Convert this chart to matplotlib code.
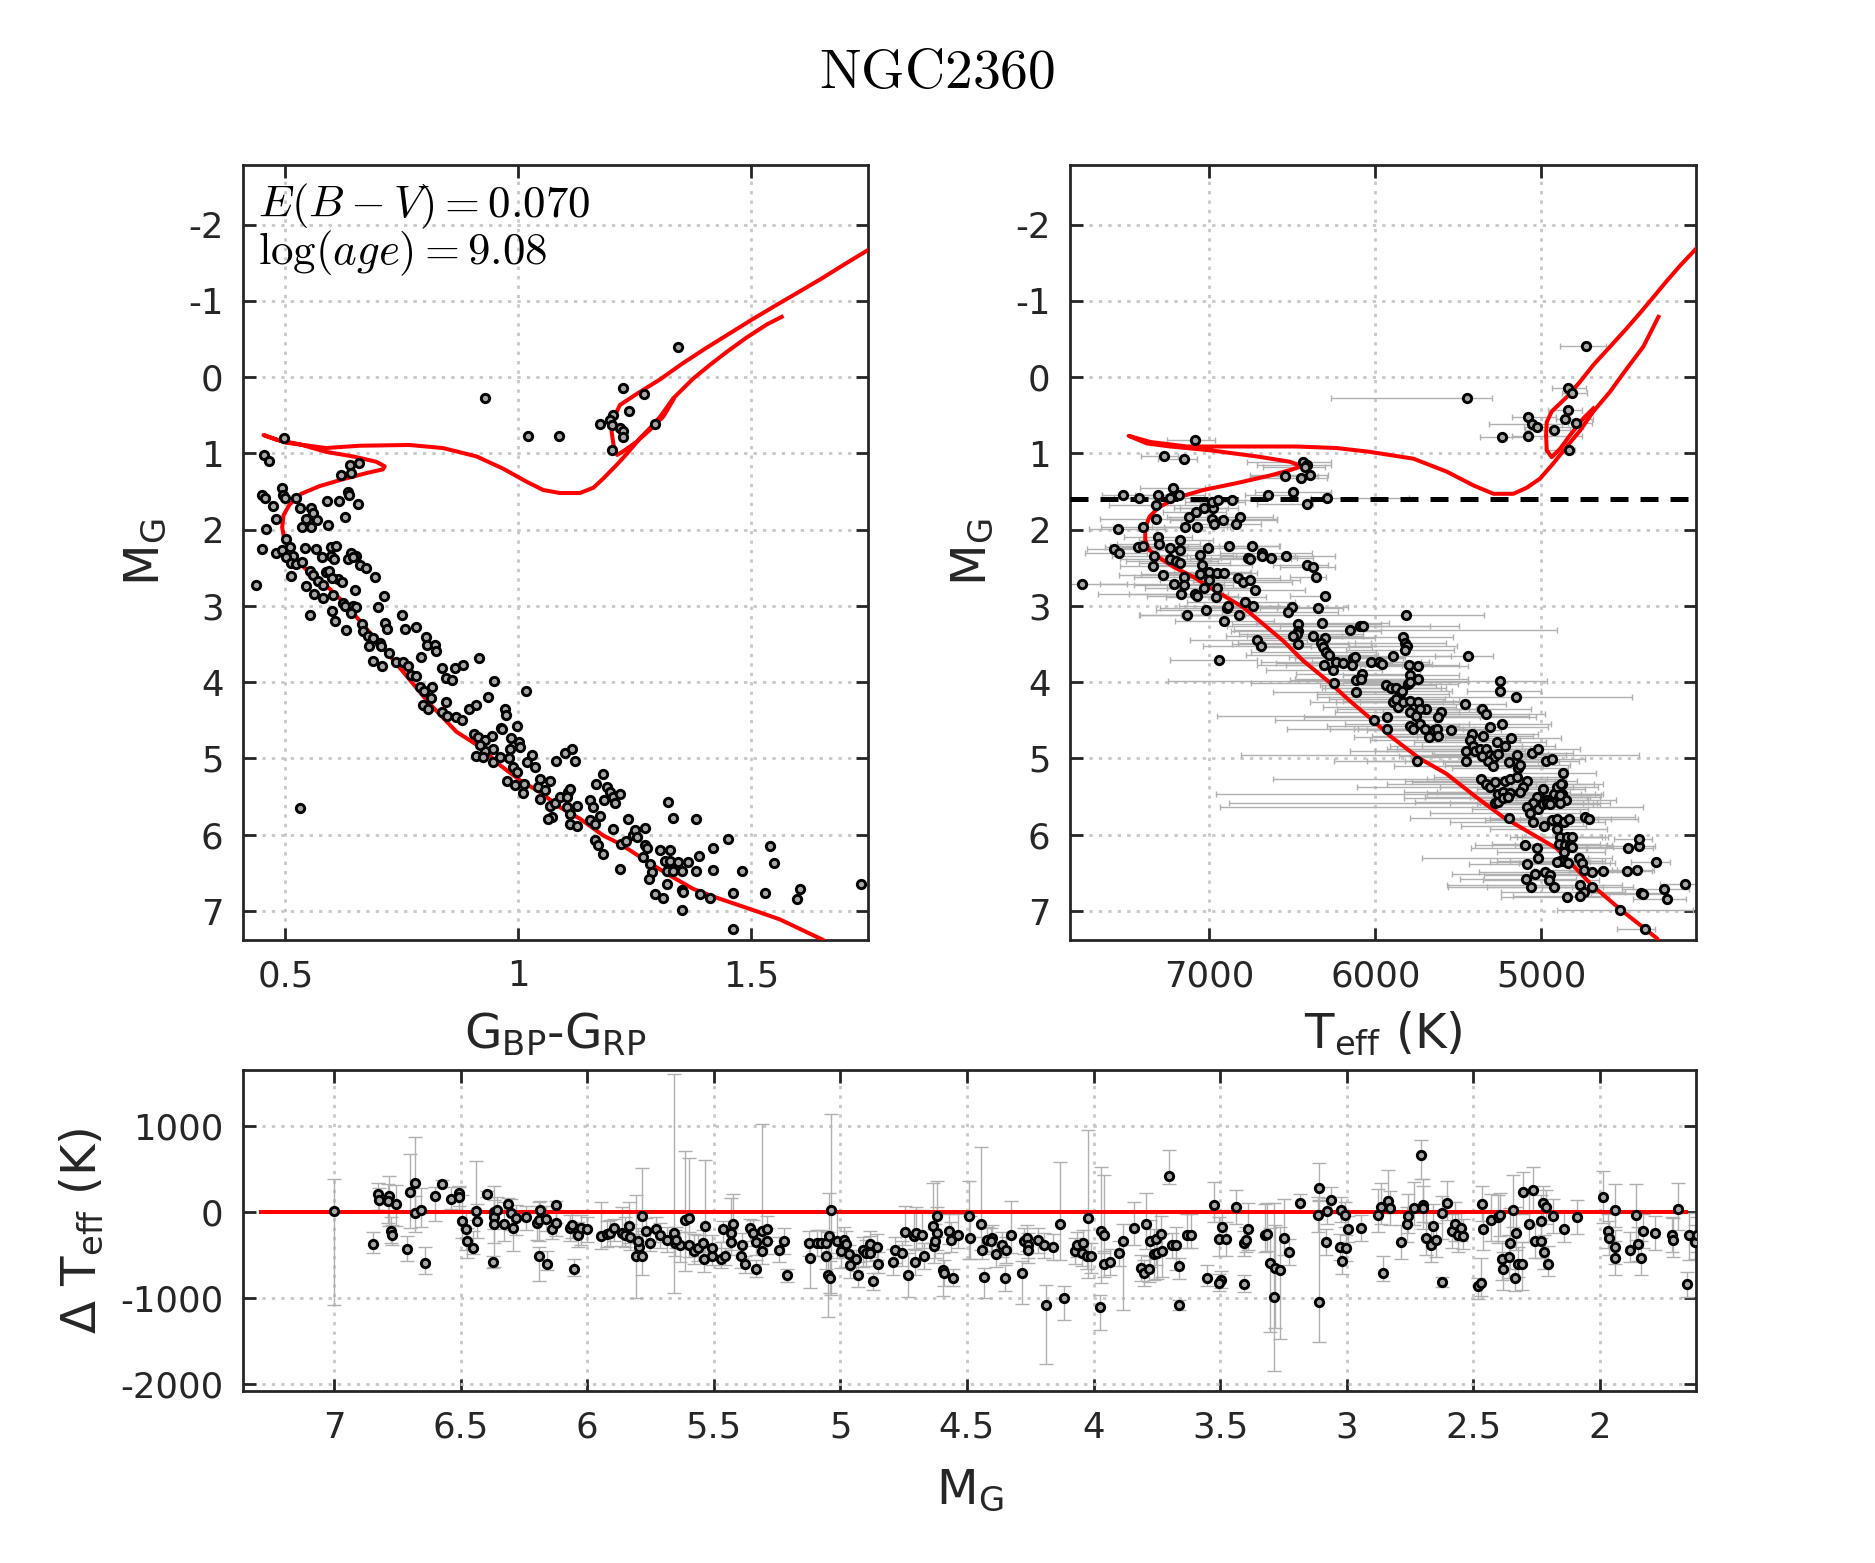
import numpy as np
import matplotlib
matplotlib.use('Agg')
import matplotlib.pyplot as plt

plt.rcParams['axes.unicode_minus'] = False
plt.rcParams['font.family'] = ['DejaVu Sans']

# ---------------- photometric CMD (left panel) ----------------
gbr = [0.929, 1.021, 1.088, 1.174, 1.343, 1.225, 1.269, 1.238, 1.202, 1.196,
       1.200, 1.218, 1.225, 1.224, 1.293, 1.200, 0.496, 0.455, 0.464, 0.638,
       0.658, 0.620, 0.641, 0.493, 0.449, 0.457, 0.494, 0.500, 0.474, 0.523,
       0.531, 0.555, 0.559, 0.590, 0.616, 0.634, 0.636, 0.655, 0.479, 0.544,
       0.567, 0.536, 0.555, 0.591, 0.627, 0.458, 0.450, 0.480, 0.493, 0.501,
       0.509, 0.516, 0.501, 0.543, 0.566, 0.598, 0.609, 0.578, 0.598, 0.605,
       0.641, 0.652, 0.634, 0.645, 0.659, 0.672, 0.512, 0.523, 0.536, 0.512,
       0.437, 0.544, 0.552, 0.559, 0.569, 0.580, 0.587, 0.593, 0.612, 0.622,
       0.600, 0.561, 0.580, 0.602, 0.650, 0.693, 0.711, 0.623, 0.627, 0.645,
       0.652, 0.641, 0.600, 0.607, 0.630, 0.552, 0.698, 0.751, 0.713, 0.718,
       0.757, 0.781, 0.665, 0.666, 0.677, 0.688, 0.702, 0.706, 0.679, 0.688,
       0.708, 0.723, 0.738, 0.752, 0.763, 0.770, 0.781, 0.792, 0.802, 0.803,
       0.822, 0.823, 0.837, 0.845, 0.863, 0.881, 0.858, 0.915, 0.947, 0.935,
       1.017, 0.788, 0.798, 0.815, 0.813, 0.795, 0.806, 0.845, 0.837, 0.847,
       0.867, 0.878, 0.895, 0.910, 0.971, 0.974, 0.963, 0.996, 0.905, 0.913,
       0.910, 0.964, 0.943, 0.929, 0.984, 1.002, 1.004, 0.981, 0.946, 0.929,
       0.918, 0.925, 0.946, 0.961, 0.979, 0.989, 0.996, 0.975, 0.993, 1.011,
       1.009, 1.029, 1.018, 1.036, 1.046, 1.043, 1.057, 1.046, 1.068, 1.081,
       1.100, 1.116, 1.121, 1.068, 1.071, 1.064, 1.079, 1.089, 1.107, 1.111,
       1.104, 1.105, 1.111, 1.111, 1.126, 1.125, 1.154, 1.159, 1.154, 1.164,
       1.174, 1.164, 1.171, 1.181, 1.182, 1.166, 1.191, 1.196, 1.202, 1.207,
       1.218, 1.184, 1.202, 1.221, 1.219, 1.236, 1.231, 1.245, 1.250, 1.254,
       1.271, 1.271, 1.275, 1.268, 1.282, 1.286, 1.281, 1.293, 1.311, 1.304,
       1.325, 1.314, 1.325, 1.318, 1.318, 1.332, 1.343, 1.350, 1.321, 1.332,
       1.350, 1.354, 1.351, 1.364, 1.382, 1.382, 1.388, 1.389, 1.411, 1.418,
       1.418, 1.450, 1.461, 1.461, 1.479, 1.529, 1.539, 1.548, 1.598, 1.605,
       1.736, 0.532]
mg_phot = [0.275, 0.777, 0.769, 0.616, -0.40, 0.14, 0.22, 0.44, 0.50, 0.56,
           0.63, 0.67, 0.71, 0.78, 0.61, 0.96, 0.80, 1.02, 1.10, 1.15,
           1.12, 1.29, 1.26, 1.45, 1.54, 1.59, 1.55, 1.59, 1.69, 1.59,
           1.71, 1.71, 1.78, 1.62, 1.62, 1.50, 1.55, 1.66, 1.86, 1.86,
           1.88, 1.97, 1.97, 1.94, 1.84, 1.99, 2.26, 2.31, 2.27, 2.12,
           2.23, 2.34, 2.36, 2.24, 2.25, 2.23, 2.21, 2.36, 2.34, 2.39,
           2.31, 2.34, 2.39, 2.36, 2.47, 2.50, 2.44, 2.45, 2.43, 2.61,
           2.72, 2.74, 2.54, 2.59, 2.67, 2.72, 2.56, 2.54, 2.65, 2.69,
           2.63, 2.85, 2.89, 2.86, 2.79, 2.62, 2.87, 2.96, 3.00, 3.00,
           3.01, 3.09, 3.07, 3.20, 3.31, 3.12, 3.02, 3.12, 3.23, 3.30,
           3.30, 3.27, 3.24, 3.33, 3.40, 3.42, 3.49, 3.53, 3.53, 3.72,
           3.79, 3.62, 3.74, 3.74, 3.79, 3.90, 3.92, 3.67, 3.41, 3.51,
           3.51, 3.59, 3.82, 3.94, 3.82, 3.77, 3.97, 3.68, 3.99, 4.20,
           4.12, 4.06, 4.11, 4.06, 4.21, 4.30, 4.35, 4.26, 4.39, 4.44,
           4.45, 4.50, 4.35, 4.30, 4.35, 4.43, 4.60, 4.57, 4.68, 4.72,
           4.97, 4.62, 4.70, 4.76, 4.73, 4.79, 4.85, 4.87, 4.87, 4.90,
           4.83, 4.98, 5.05, 4.98, 5.00, 5.11, 5.18, 5.30, 5.35, 5.33,
           5.45, 4.96, 5.05, 5.11, 5.27, 5.38, 5.42, 5.53, 5.30, 5.03,
           4.93, 4.87, 5.03, 5.62, 5.77, 5.79, 5.59, 5.51, 5.44, 5.40,
           5.51, 5.64, 5.73, 5.86, 5.62, 5.89, 5.54, 5.64, 5.81, 5.86,
           5.75, 6.07, 6.14, 6.25, 5.20, 5.33, 5.37, 5.44, 5.51, 5.59,
           5.47, 5.54, 5.92, 6.12, 6.45, 5.79, 6.08, 6.01, 5.94, 6.03,
           5.91, 6.14, 6.18, 6.29, 6.38, 6.49, 6.58, 6.78, 6.83, 6.20,
           6.20, 6.34, 6.34, 6.47, 6.65, 6.47, 6.36, 6.47, 5.57, 5.78,
           6.73, 6.75, 6.99, 6.36, 5.80, 6.47, 6.28, 6.78, 6.83, 6.18,
           6.46, 6.05, 6.77, 7.24, 6.47, 6.77, 6.15, 6.37, 6.84, 6.71,
           6.64, 5.65]

# isochrone in colour-magnitude plane (two pieces)
iso_col1 = [1.68, 1.654, 1.561, 1.500, 1.418, 1.375, 1.318, 1.261, 1.218, 1.182,
            1.132, 1.089, 1.046, 1.004, 0.961, 0.918, 0.867, 0.809, 0.752, 0.709,
            0.666, 0.623, 0.580, 0.544, 0.516, 0.498, 0.493, 0.496, 0.509, 0.534,
            0.573, 0.623, 0.673, 0.709, 0.713, 0.695, 0.645, 0.587, 0.530, 0.480,
            0.453, 0.501, 0.587, 0.659, 0.766, 0.838, 0.910, 0.967, 1.017, 1.053,
            1.089, 1.132, 1.161, 1.182, 1.211, 1.232, 1.261, 1.282, 1.304, 1.332,
            1.375, 1.411, 1.447, 1.490, 1.533, 1.565]
iso_mg1 = [7.50, 7.38, 7.11, 6.98, 6.81, 6.71, 6.51, 6.29, 6.12, 6.01,
           5.79, 5.64, 5.44, 5.29, 5.09, 4.85, 4.65, 4.28, 3.86, 3.55,
           3.24, 2.94, 2.69, 2.52, 2.34, 2.14, 1.97, 1.81, 1.67, 1.53,
           1.43, 1.34, 1.26, 1.21, 1.17, 1.11, 1.04, 0.98, 0.88, 0.82,
           0.76, 0.86, 0.93, 0.90, 0.89, 0.93, 1.04, 1.20, 1.37, 1.48,
           1.52, 1.52, 1.45, 1.33, 1.15, 1.01, 0.80, 0.67, 0.52, 0.28,
           0.02, -0.16, -0.33, -0.52, -0.69, -0.79]
iso_col2 = [1.80, 1.754, 1.700, 1.650, 1.600, 1.555, 1.500, 1.450, 1.400, 1.350,
            1.304, 1.254, 1.218, 1.204, 1.200, 1.204, 1.212, 1.229, 1.254, 1.282,
            1.311, 1.332]
iso_mg2 = [-1.85, -1.68, -1.48, -1.29, -1.11, -0.95, -0.75, -0.56, -0.37, -0.17,
           0.03, 0.22, 0.365, 0.540, 0.715, 0.890, 1.021, 0.955, 0.846, 0.693,
           0.518, 0.300]

# ---------------- spectroscopic Teff vs MG (right panel) ----------------
teff = [4729, 4840, 4816, 5450, 4840, 5079, 4860, 5057, 5025, 4926,
        4791, 5239, 5079, 4833, 7086, 7276, 7153, 6435, 6415, 6425,
        6395, 6449, 6545, 6499, 6645, 6415, 6289, 7521, 7427, 7313,
        7220, 7186, 7236, 7321, 7321, 7126, 7080, 7036, 6976, 6986,
        6946, 6862, 6986, 6920, 6816, 6840, 6972, 7146, 7076, 7401,
        7551, 7313, 7176, 7307, 7240, 7431, 7401, 7577, 7547, 7176,
        7060, 7006, 6880, 6745, 6770, 6756, 6685, 6685, 6629, 6541,
        6415, 6375, 6359, 6303, 7337, 7240, 7200, 7176, 7341, 7046,
        7000, 6956, 6912, 7060, 7152, 7283, 7768, 7212, 7156, 7036,
        7000, 6956, 6826, 6800, 6756, 6725, 7170, 7086, 7076, 6962,
        6896, 6886, 6786, 6735, 6505, 6525, 6345, 7136, 7020, 6910,
        6820, 6715, 6689, 6940, 6465, 6469, 6475, 6499, 6321, 6375,
        6305, 6154, 6094, 6074, 5818, 5834, 6464, 6329, 6319, 6298,
        6282, 6312, 6258, 6238, 6198, 6133, 6121, 6141, 6026, 5980,
        5960, 5895, 5825, 5810, 5825, 5798, 5744, 5794, 5744, 5442,
        6248, 6117, 6081, 6087, 6117, 5935, 5905, 5875, 5804, 5794,
        5855, 5839, 5250, 5250, 5153, 5895, 5879, 5865, 5835, 5794,
        5744, 5694, 5734, 5794, 5754, 5607, 5623, 5462, 5361, 5331,
        6006, 5931, 5931, 5794, 5774, 5734, 5704, 5677, 5649, 5627,
        5623, 5542, 5421, 5431, 5415, 5452, 5351, 5310, 5240, 5270,
        5183, 5401, 5371, 5331, 5310, 5286, 5260, 5321, 5290, 5220,
        5149, 5194, 5139, 5129, 5452, 5361, 5750, 5058, 5018, 4972,
        4938, 5367, 5331, 5310, 5280, 5220, 5190, 5149, 5085, 5109,
        5129, 5260, 5230, 5190, 5280, 5260, 5230, 5200, 4990, 5008,
        4968, 4927, 4897, 4877, 4851, 4887, 4908, 4877, 4871, 4883,
        4891, 5194, 5028, 5052, 5089, 5069, 5048, 5018, 4988, 4968,
        4948, 4982, 4938, 4907, 4867, 4831, 4736, 4716, 4907, 4887,
        4847, 4817, 4897, 4857, 4827, 4867, 4817, 4867, 4837, 4887,
        4907, 5099, 5024, 5018, 5089, 5038, 4978, 4948, 4952, 4927,
        5065, 5093, 4776, 4756, 4746, 4696, 4631, 4484, 4423, 4480,
        4413, 4413, 4308, 4766, 4746, 4696, 4770, 4843, 4400, 4388,
        4262, 4246, 4135, 4528, 4379]
mg_spec = [-0.41, 0.145, 0.21, 0.276, 0.43, 0.52, 0.55, 0.62, 0.66, 0.70,
           0.605, 0.785, 0.77, 0.956, 0.82, 1.03, 1.08, 1.11, 1.15, 1.18,
           1.29, 1.32, 1.30, 1.50, 1.55, 1.66, 1.59, 1.54, 1.59, 1.55,
           1.46, 1.54, 1.59, 1.68, 1.86, 1.83, 1.77, 1.71, 1.72, 1.64,
           1.61, 1.61, 1.86, 1.88, 1.83, 1.93, 1.93, 1.97, 1.97, 1.96,
           1.99, 2.09, 2.13, 2.19, 2.24, 2.23, 2.21, 2.26, 2.30, 2.27,
           2.33, 2.24, 2.22, 2.22, 2.37, 2.38, 2.31, 2.34, 2.37, 2.34,
           2.47, 2.49, 2.62, 2.87, 2.35, 2.38, 2.41, 2.44, 2.48, 2.46,
           2.55, 2.57, 2.57, 2.58, 2.62, 2.60, 2.71, 2.71, 2.72, 2.76,
           2.66, 2.76, 2.63, 2.69, 2.66, 2.79, 2.84, 2.84, 2.87, 2.88,
           3.03, 3.00, 2.95, 3.00, 3.02, 3.08, 3.03, 3.12, 3.06, 3.20,
           3.12, 3.45, 3.53, 3.71, 3.24, 3.33, 3.37, 3.39, 3.23, 3.39,
           3.42, 3.31, 3.26, 3.26, 3.12, 3.41, 3.50, 3.49, 3.54, 3.61,
           3.64, 3.78, 3.84, 3.74, 3.75, 3.68, 3.67, 3.78, 3.74, 3.74,
           3.76, 3.66, 3.48, 3.52, 3.58, 3.78, 3.79, 3.91, 3.96, 3.66,
           4.01, 3.97, 3.89, 3.96, 4.13, 4.04, 4.07, 4.07, 4.02, 4.00,
           4.15, 4.11, 3.98, 4.11, 4.19, 4.26, 4.22, 4.32, 4.26, 4.25,
           4.26, 4.35, 4.35, 4.39, 4.44, 4.39, 4.45, 4.28, 4.35, 4.42,
           4.49, 4.45, 4.61, 4.57, 4.61, 4.55, 4.62, 4.72, 4.63, 4.61,
           4.70, 4.63, 4.68, 4.76, 4.84, 4.90, 4.70, 4.59, 4.55, 4.79,
           4.73, 4.90, 4.87, 4.87, 4.96, 4.98, 4.94, 5.03, 5.10, 4.84,
           4.96, 5.05, 5.12, 5.09, 5.03, 4.97, 5.03, 4.93, 4.87, 5.03,
           5.01, 5.27, 5.33, 5.38, 5.31, 5.29, 5.27, 5.24, 5.30, 5.38,
           5.44, 5.46, 5.44, 5.45, 5.59, 5.57, 5.52, 5.50, 5.40, 5.51,
           5.54, 5.47, 5.51, 5.46, 5.54, 5.59, 5.38, 5.33, 5.19, 5.34,
           5.48, 5.78, 5.51, 5.59, 5.64, 5.72, 5.83, 5.66, 5.60, 5.58,
           5.60, 5.88, 5.81, 5.79, 5.83, 5.79, 5.77, 5.80, 5.92, 6.03,
           6.03, 6.03, 6.12, 6.13, 6.14, 6.22, 6.16, 6.34, 6.37, 6.34,
           6.36, 6.13, 6.18, 6.31, 6.39, 6.51, 6.49, 6.53, 6.60, 6.69,
           6.68, 6.58, 6.31, 6.37, 6.46, 6.49, 6.47, 6.47, 6.46, 6.18,
           6.15, 6.05, 6.36, 6.66, 6.75, 6.68, 6.80, 6.81, 6.77, 6.78,
           6.71, 6.84, 6.64, 6.99, 7.24]
# error towards hotter Teff (drawn to the left) and towards cooler Teff
teff_err_hot = [160, 99, 61, 817, 123, 98, 55, 258, 78, 172,
                49, 130, 98, 143, 172, 135, 160, 340, 300, 250,
                360, 300, 210, 226, 140, 300, 100, 126, 150, 134,
                196, 120, 200, 286, 336, 130, 200, 180, 200, 160,
                150, 150, 250, 316, 200, 150, 200, 200, 200, 250,
                176, 204, 250, 250, 300, 200, 200, 160, 200, 250,
                250, 300, 300, 200, 350, 300, 250, 250, 300, 300,
                200, 200, 156, 210, 250, 300, 300, 250, 200, 300,
                300, 300, 300, 350, 300, 260, 150, 450, 300, 350,
                300, 300, 350, 300, 300, 300, 500, 400, 300, 300,
                400, 300, 350, 300, 520, 400, 350, 290, 300, 300,
                350, 400, 350, 296, 400, 400, 350, 400, 400, 400,
                400, 700, 800, 500, 1600, 500, 400, 500, 400, 450,
                500, 400, 400, 450, 400, 350, 400, 400, 400, 400,
                350, 400, 300, 350, 350, 400, 350, 400, 350, 200,
                500, 400, 400, 400, 500, 400, 400, 450, 300, 400,
                500, 400, 2000, 200, 1200, 500, 400, 450, 400, 400,
                350, 400, 500, 450, 1200, 350, 400, 300, 450, 400,
                600, 500, 600, 500, 500, 450, 400, 450, 400, 500,
                400, 400, 500, 600, 500, 700, 400, 450, 400, 500,
                400, 600, 500, 600, 1500, 500, 400, 500, 600, 500,
                500, 400, 400, 450, 600, 500, 500, 300, 300, 300,
                300, 1250, 600, 800, 500, 600, 500, 500, 400, 500,
                500, 1700, 600, 500, 1600, 500, 600, 500, 400, 400,
                400, 350, 400, 300, 300, 400, 300, 300, 300, 300,
                300, 600, 400, 500, 1850, 600, 500, 400, 400, 400,
                400, 500, 400, 400, 300, 300, 300, 250, 400, 300,
                300, 300, 400, 300, 300, 400, 300, 400, 300, 300,
                400, 300, 400, 700, 350, 500, 400, 400, 400, 400,
                500, 400, 250, 300, 300, 250, 200, 150, 150, 250,
                200, 150, 150, 800, 500, 300, 400, 400, 300, 250,
                250, 200, 150, 380, 165]
teff_err_cool = [118, 111, 93, 150, 86, 165, 168, 180, 276, 98,
                 98, 165, 325, 35, 118, 86, 80, 170, 150, 120,
                 110, 160, 200, 234, 170, 40, 490, 214, 150, 126,
                 194, 160, 200, 264, 204, 220, 180, 150, 150, 200,
                 120, 150, 390, 324, 200, 150, 120, 250, 200, 230,
                 284, 206, 200, 250, 200, 300, 250, 200, 170, 200,
                 200, 300, 300, 170, 300, 250, 300, 200, 250, 300,
                 130, 130, 64, 28, 200, 250, 250, 300, 300, 300,
                 250, 200, 200, 250, 250, 250, 271, 300, 300, 300,
                 250, 250, 250, 300, 300, 300, 250, 200, 250, 300,
                 300, 300, 300, 200, 340, 300, 150, 350, 300, 300,
                 300, 300, 300, 224, 500, 500, 400, 300, 400, 300,
                 300, 1250, 600, 400, 470, 300, 300, 300, 300, 300,
                 300, 250, 300, 300, 300, 300, 300, 300, 300, 300,
                 300, 350, 250, 300, 300, 300, 300, 300, 300, 150,
                 400, 300, 350, 300, 300, 300, 300, 300, 300, 350,
                 300, 300, 282, 250, 700, 300, 300, 350, 300, 300,
                 300, 300, 300, 300, 680, 300, 250, 250, 300, 350,
                 400, 900, 300, 300, 300, 300, 300, 300, 300, 300,
                 300, 300, 400, 300, 300, 300, 300, 350, 300, 300,
                 300, 300, 300, 300, 900, 300, 300, 300, 300, 300,
                 300, 300, 300, 300, 500, 300, 600, 250, 250, 200,
                 200, 400, 300, 300, 300, 300, 300, 300, 300, 300,
                 300, 500, 300, 300, 300, 300, 300, 300, 250, 300,
                 250, 250, 250, 250, 300, 300, 250, 250, 200, 200,
                 250, 300, 300, 300, 700, 300, 300, 300, 300, 300,
                 300, 250, 250, 250, 250, 250, 300, 300, 300, 250,
                 250, 200, 250, 250, 250, 250, 250, 250, 250, 250,
                 200, 250, 300, 300, 300, 300, 250, 250, 300, 300,
                 250, 300, 200, 200, 200, 200, 200, 150, 100, 150,
                 100, 80, 80, 250, 250, 250, 150, 250, 150, 150,
                 150, 120, 100, 440, 66]

# isochrone in Teff-magnitude plane
iso_t1 = [4270, 4303, 4524, 4706, 4907, 5230, 5391, 5573, 5734, 5915,
          6016, 6157, 6278, 6435, 6555, 6675, 6796, 6896, 6996, 7096,
          7216, 7307, 7361, 7387, 7387, 7361, 7307, 7196, 7036, 6836,
          6635, 6515, 6445, 6515, 6715, 6996, 7236, 7377, 7487, 7357,
          7136, 6836, 6475, 6234, 6034, 5771, 5570, 5410, 5289, 5169,
          5088, 5008, 4928, 4847, 4767, 4687, 4586, 4486, 4386, 4295]
iso_tm1 = [7.50, 7.36, 6.98, 6.64, 6.18, 5.77, 5.51, 5.20, 5.00, 4.70,
           4.50, 4.24, 4.00, 3.72, 3.46, 3.24, 3.02, 2.89, 2.76, 2.62,
           2.49, 2.36, 2.27, 2.14, 1.97, 1.83, 1.71, 1.58, 1.48, 1.39,
           1.29, 1.22, 1.17, 1.11, 1.04, 0.96, 0.91, 0.87, 0.77, 0.85,
           0.91, 0.91, 0.91, 0.93, 0.98, 1.07, 1.24, 1.42, 1.53, 1.53,
           1.45, 1.33, 1.13, 0.91, 0.70, 0.45, 0.19, -0.11, -0.40, -0.79]
iso_t2 = [4000, 4074, 4165, 4245, 4325, 4406, 4486, 4586, 4687, 4767,
          4847, 4938, 4968, 4972, 4968, 4938, 4888, 4827, 4747, 4687]
iso_tm2 = [-1.83, -1.67, -1.46, -1.26, -1.05, -0.84, -0.64, -0.40, -0.16, 0.06,
           0.26, 0.45, 0.59, 0.76, 0.96, 1.05, 0.94, 0.76, 0.54, 0.41]
mg_cut = 1.6

# ---------------- Delta Teff vs MG (bottom panel) ----------------
mg_d = [7.000, 6.845, 6.827, 6.823, 6.783, 6.788, 6.774, 6.771, 6.756, 6.714,
        6.700, 6.682, 6.682, 6.656, 6.642, 6.603, 6.573, 6.538, 6.506, 6.506,
        6.493, 6.479, 6.474, 6.453, 6.441, 6.435, 6.395, 6.370, 6.370, 6.368,
        6.372, 6.356, 6.329, 6.315, 6.303, 6.294, 6.282, 6.241, 6.200, 6.192,
        6.185, 6.192, 6.160, 6.162, 6.140, 6.125, 6.123, 6.070, 6.061, 6.052,
        6.035, 6.024, 6.000, 5.945, 5.923, 5.909, 5.893, 5.862, 5.849, 5.835,
        5.832, 5.809, 5.782, 5.795, 5.800, 5.782, 5.768, 5.752, 5.729, 5.712,
        5.685, 5.659, 5.654, 5.632, 5.650, 5.615, 5.597, 5.597, 5.579, 5.562,
        5.544, 5.535, 5.539, 5.509, 5.509, 5.473, 5.465, 5.456, 5.433, 5.433,
        5.424, 5.390, 5.394, 5.376, 5.359, 5.345, 5.332, 5.311, 5.309, 5.288,
        5.288, 5.332, 5.244, 5.223, 5.212, 5.124, 5.120, 5.094, 5.076, 5.055,
        5.044, 5.058, 5.050, 5.041, 5.037, 5.015, 4.997, 4.985, 4.979, 4.967,
        4.939, 4.930, 4.962, 4.909, 4.900, 4.882, 4.882, 4.856, 4.850, 4.870,
        4.794, 4.785, 4.755, 4.732, 4.744, 4.709, 4.705, 4.702, 4.679, 4.670,
        4.635, 4.631, 4.617, 4.626, 4.617, 4.569, 4.563, 4.535, 4.595, 4.589,
        4.555, 4.490, 4.486, 4.445, 4.441, 4.431, 4.421, 4.401, 4.405, 4.386,
        4.362, 4.346, 4.348, 4.327, 4.283, 4.273, 4.264, 4.260, 4.258, 4.220,
        4.195, 4.159, 4.189, 4.132, 4.116, 4.073, 4.067, 4.047, 4.041, 4.027,
        4.011, 4.023, 3.974, 3.972, 3.958, 3.958, 3.935, 3.899, 3.885, 3.840,
        3.791, 3.777, 3.755, 3.761, 3.751, 3.735, 3.728, 3.814, 3.800, 3.781,
        3.700, 3.688, 3.676, 3.663, 3.663, 3.629, 3.613, 3.551, 3.525, 3.491,
        3.505, 3.476, 3.495, 3.505, 3.436, 3.391, 3.407, 3.397, 3.407, 3.322,
        3.314, 3.302, 3.283, 3.263, 3.287, 3.249, 3.229, 3.186, 3.111, 3.115,
        3.109, 3.082, 3.076, 3.062, 3.026, 3.022, 3.007, 3.003, 2.993, 3.020,
        2.944, 2.875, 2.865, 2.835, 2.829, 2.855, 2.786, 2.761, 2.757, 2.733,
        2.707, 2.697, 2.697, 2.687, 2.668, 2.658, 2.648, 2.624, 2.624, 2.604,
        2.585, 2.573, 2.559, 2.540, 2.550, 2.481, 2.471, 2.467, 2.461, 2.431,
        2.402, 2.396, 2.343, 2.386, 2.382, 2.357, 2.353, 2.334, 2.330, 2.323,
        2.307, 2.303, 2.264, 2.278, 2.254, 2.231, 2.231, 2.225, 2.211, 2.219,
        2.205, 2.185, 2.140, 2.091, 1.988, 1.969, 1.963, 1.939, 1.939, 1.939,
        1.880, 1.856, 1.850, 1.836, 1.830, 1.781, 1.716, 1.712, 1.689, 1.657,
        1.647, 1.623, 1.614]
dteff = [8, -372, 213, 136, 190, 124, -225, -271, 97, -430,
         233, 337, -19, 27, -593, 190, 326, 151, 221, 171,
         -109, -198, -341, -419, 8, -109, 209, -4, -58, -140,
         -581, 27, -136, 97, -12, -186, -70, -62, -128, -89,
         27, -508, -601, -78, -194, 74, -128, -186, -155, -663,
         -264, -186, -205, -283, -256, -244, -186, -244, -264, -167,
         -291, -508, -508, -407, -341, -43, -217, -360, -205, -275,
         -322, -244, -360, -380, -322, -89, -70, -380, -457, -419,
         -360, -167, -546, -516, -419, -554, -205, -516, -244, -353,
         -147, -391, -508, -612, -186, -244, -353, -225, -457, -194,
         -341, -663, -438, -341, -740, -368, -535, -360, -360, -368,
         -283, -516, -729, -767, 27, -341, -457, -322, -372, -488,
         -543, -729, -624, -438, -477, -372, -477, -407, -612, -806,
         -585, -446, -484, -729, -232, -283, -581, -244, -275, -516,
         -167, -399, -43, -341, -244, -225, -322, -275, -678, -709,
         -767, -43, -302, -147, -446, -756, -322, -302, -341, -496,
         -380, -446, -767, -275, -717, -341, -302, -391, -446, -333,
         -391, -407, -1085, -136, -1008, -457, -380, -477, -360, -516,
         -516, -70, -1105, -225, -275, -605, -585, -484, -341, -186,
         -136, -341, -314, -496, -477, -252, -457, -651, -709, -663,
         422, -391, -380, -632, -1085, -271, -271, -767, 81, -174,
         -314, -314, -787, -826, 58, -198, -368, -322, -837, -264,
         -252, -593, -651, -682, -996, -302, -469, 105, 279, -31,
         -1047, -353, 8, 136, -411, 27, -31, -419, -198, -574,
         -186, -31, 58, 132, 47, -709, -349, -147, -43, 47,
         667, 85, 47, -302, -380, -159, -329, -818, -12, 105,
         -225, -136, -264, -283, -186, -864, -833, 97, -198, -89,
         -58, -31, 27, -543, -663, -523, -360, -767, -244, -612,
         -605, 229, 252, -147, -341, -341, -109, 105, 58, -465,
         -601, -50, -198, -58, 174, -225, -302, -407, -535, 19,
         -438, -31, -372, -535, -225, -244, -264, -322, 35, -845,
         -264, -353, -264]
dteff_up = [376, 140, 124, 140, 230, 200, 170, 120, 220, 150,
            442, 535, 200, 250, 180, 100, 40, 140, 80, 120,
            300, 200, 150, 200, 580, 200, 30, 300, 200, 150,
            70, 150, 250, 70, 160, 150, 150, 130, 200, 200,
            100, 100, 150, 150, 100, 50, 150, 150, 150, 120,
            150, 150, 150, 400, 150, 150, 100, 300, 200, 280,
            150, 700, 280, 150, 150, 550, 150, 150, 150, 150,
            150, 1850, 150, 150, 150, 800, 700, 150, 200, 150,
            150, 770, 150, 100, 150, 200, 100, 100, 400, 150,
            350, 150, 150, 100, 100, 150, 150, 1250, 150, 150,
            150, 100, 150, 150, 80, 150, 200, 150, 150, 150,
            500, 150, 500, 200, 1110, 350, 100, 150, 150, 100,
            100, 150, 150, 150, 150, 150, 200, 150, 150, 100,
            150, 150, 150, 250, 300, 300, 150, 300, 300, 150,
            500, 200, 400, 200, 300, 200, 200, 250, 200, 150,
            100, 400, 250, 900, 150, 100, 150, 150, 150, 150,
            150, 150, 150, 400, 150, 150, 150, 150, 150, 150,
            150, 150, 230, 720, 150, 150, 150, 150, 150, 150,
            150, 1020, 140, 750, 700, 150, 150, 150, 200, 300,
            350, 250, 300, 300, 200, 200, 200, 150, 150, 150,
            300, 150, 200, 100, 60, 250, 250, 150, 270, 200,
            250, 200, 100, 100, 200, 300, 150, 150, 100, 350,
            350, 400, 500, 500, 1100, 450, 150, 100, 290, 200,
            1180, 150, 150, 150, 150, 150, 150, 150, 150, 150,
            150, 300, 280, 350, 200, 200, 200, 200, 250, 300,
            170, 300, 250, 300, 250, 250, 200, 60, 200, 250,
            200, 250, 250, 200, 200, 100, 300, 200, 200, 300,
            250, 250, 400, 200, 200, 250, 400, 200, 300, 200,
            250, 230, 270, 350, 200, 200, 300, 200, 200, 200,
            200, 200, 200, 200, 300, 200, 200, 200, 200, 300,
            200, 350, 200, 200, 200, 200, 200, 250, 300, 150,
            250, 200, 200]
dteff_dn = [1093, 105, 190, 120, 360, 250, 140, 120, 260, 140,
            420, 350, 220, 200, 130, 300, 40, 120, 150, 150,
            200, 250, 200, 70, 100, 200, 40, 200, 300, 500,
            70, 150, 200, 70, 200, 270, 200, 150, 200, 250,
            150, 300, 70, 150, 120, 200, 150, 150, 150, 80,
            150, 200, 150, 150, 150, 150, 150, 150, 150, 200,
            150, 500, 230, 100, 150, 300, 150, 100, 150, 150,
            150, 700, 150, 200, 100, 600, 300, 150, 150, 150,
            150, 300, 150, 100, 100, 100, 150, 100, 200, 150,
            200, 150, 150, 100, 150, 150, 150, 150, 150, 150,
            150, 100, 150, 150, 80, 150, 350, 150, 150, 150,
            200, 150, 500, 180, 1000, 200, 200, 150, 150, 150,
            150, 150, 150, 200, 150, 150, 100, 150, 100, 100,
            150, 150, 150, 260, 150, 150, 150, 200, 150, 150,
            200, 200, 250, 200, 200, 150, 150, 150, 300, 150,
            100, 500, 250, 300, 100, 250, 150, 150, 150, 150,
            150, 150, 150, 200, 350, 150, 150, 150, 150, 150,
            150, 150, 690, 420, 250, 150, 150, 150, 150, 150,
            200, 700, 270, 600, 200, 150, 150, 150, 800, 200,
            300, 300, 300, 300, 300, 200, 300, 150, 150, 150,
            100, 150, 300, 150, 60, 150, 150, 100, 200, 150,
            200, 200, 100, 100, 200, 250, 150, 150, 100, 200,
            200, 800, 700, 800, 850, 200, 150, 100, 150, 200,
            470, 150, 150, 150, 150, 150, 150, 150, 150, 150,
            150, 200, 200, 150, 200, 100, 200, 200, 200, 200,
            280, 200, 250, 200, 200, 200, 200, 60, 300, 200,
            200, 200, 200, 150, 150, 150, 150, 200, 250, 250,
            300, 250, 200, 250, 250, 250, 300, 150, 200, 150,
            300, 250, 250, 200, 200, 200, 200, 200, 200, 200,
            150, 200, 150, 200, 300, 200, 200, 200, 200, 200,
            150, 300, 200, 200, 200, 200, 200, 200, 250, 150,
            300, 200, 200]
mg_zero = [7.29, 1.66]

# ---------------- styling helpers ----------------
ink = '#262626'
gridc = '#c8c8c8'
errc = '#b0b0b0'
red = '#ff0000'
mk = dict(ls='none', marker='o', ms=3.0, mfc='#a8a8a8', mec='k', mew=1.05, zorder=4)


def style(ax):
    ax.grid(True, ls=(0, (1.2, 2.2)), lw=1.0, color=gridc, zorder=0)
    ax.set_axisbelow(True)
    ax.tick_params(direction='in', top=True, right=True, length=4.5, width=1.0,
                   labelsize=12.8, colors=ink, pad=7)
    for s in ax.spines.values():
        s.set_linewidth(1.0)
        s.set_color(ink)


fig = plt.figure(figsize=(9.375, 7.815), dpi=200)

mg_ticks = [-2, -1, 0, 1, 2, 3, 4, 5, 6, 7]
mg_lbls = ['-2', '-1', '0', '1', '2', '3', '4', '5', '6', '7']
lab = dict(fontsize=17.4, color=ink)

# left panel
ax1 = fig.add_axes([0.1296, 0.3986, 0.3333, 0.4958])
style(ax1)
ax1.plot(iso_col1, iso_mg1, color=red, lw=1.45, zorder=3)
ax1.plot(iso_col2, iso_mg2, color=red, lw=1.45, zorder=3)
ax1.plot(gbr, mg_phot, **mk)
ax1.set_xlim(0.409, 1.75)
ax1.set_ylim(7.38, -2.78)
ax1.set_xticks([0.5, 1, 1.5])
ax1.set_xticklabels(['0.5', '1', '1.5'])
ax1.set_yticks(mg_ticks)
ax1.set_yticklabels(mg_lbls)
ax1.set_xlabel(r'G$_{\rm BP}$-G$_{\rm RP}$', labelpad=6, **lab)
ax1.set_ylabel(r'M$_{\rm G}$', labelpad=7, **lab)
ax1.text(0.024, 0.979, r'$E(B-V)=0.070$', transform=ax1.transAxes, va='top', ha='left',
         fontsize=16.2, math_fontfamily='cm')
ax1.text(0.024, 0.918, r'$\log(age)=9.08$', transform=ax1.transAxes, va='top', ha='left',
         fontsize=16.2, math_fontfamily='cm')

# right panel
ax2 = fig.add_axes([0.5707, 0.3986, 0.3339, 0.4958])
style(ax2)
ax2.errorbar(teff, mg_spec, xerr=[teff_err_cool, teff_err_hot], fmt='none',
             ecolor=errc, elinewidth=0.5, capsize=1.0, capthick=0.5, zorder=1)
ax2.plot(iso_t1, iso_tm1, color=red, lw=1.45, zorder=3)
ax2.plot(iso_t2, iso_tm2, color=red, lw=1.45, zorder=3)
ax2.axhline(mg_cut, color='k', lw=1.8, dashes=(3.6, 2.4), zorder=3.5)
ax2.plot(teff, mg_spec, **mk)
ax2.set_xlim(7840, 4068)
ax2.set_ylim(7.38, -2.78)
ax2.set_xticks([7000, 6000, 5000])
ax2.set_xticklabels(['7000', '6000', '5000'])
ax2.set_yticks(mg_ticks)
ax2.set_yticklabels(mg_lbls)
ax2.set_xlabel(r'T$_{\rm eff}$ (K)', labelpad=6, **lab)
ax2.set_ylabel(r'M$_{\rm G}$', labelpad=7, **lab)

# bottom panel
ax3 = fig.add_axes([0.1296, 0.1100, 0.7749, 0.2054])
style(ax3)
ax3.errorbar(mg_d, dteff, yerr=[dteff_dn, dteff_up], fmt='none',
             ecolor=errc, elinewidth=0.5, capsize=2.4, capthick=0.5, zorder=1)
ax3.plot(mg_zero, [0, 0], color=red, lw=1.45, zorder=3)
ax3.plot(mg_d, dteff, **mk)
ax3.set_xlim(7.36, 1.62)
ax3.set_ylim(-2085, 1650)
ax3.set_xticks([7, 6.5, 6, 5.5, 5, 4.5, 4, 3.5, 3, 2.5, 2])
ax3.set_xticklabels(['7', '6.5', '6', '5.5', '5', '4.5', '4', '3.5', '3', '2.5', '2'])
ax3.set_yticks([-2000, -1000, 0, 1000])
ax3.set_yticklabels(['-2000', '-1000', '0', '1000'])
ax3.set_xlabel(r'M$_{\rm G}$', labelpad=8, **lab)
ax3.set_ylabel(r'$\Delta$ T$_{\rm eff}$ (K)', labelpad=5, **lab)

fig.text(0.5, 0.953, r'$\mathrm{NGC2360}$', ha='center', va='center', fontsize=20,
         math_fontfamily='cm')

fig.savefig('out.png', dpi=200)
